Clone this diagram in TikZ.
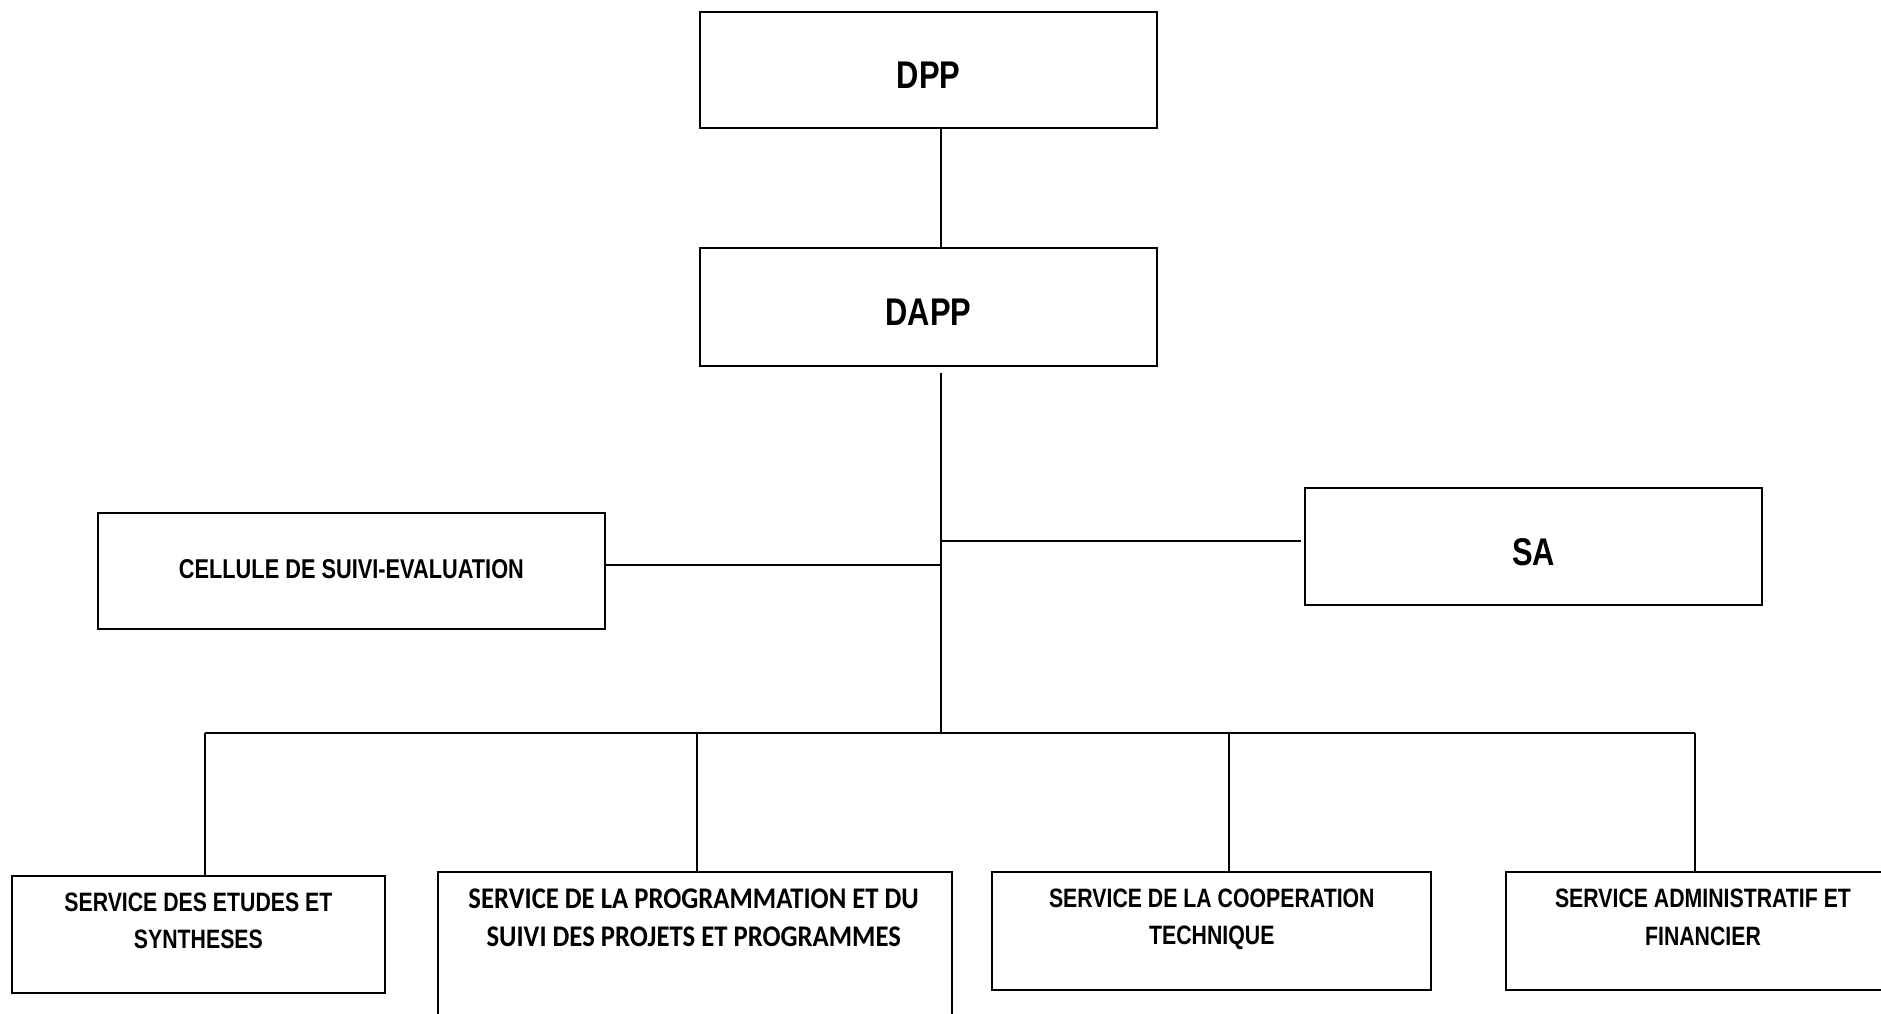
\documentclass[tikz,border=0pt]{standalone}
\usepackage{fontspec}
\setmainfont{Liberation Sans}
\newfontfamily\narrowfont{Liberation Sans Bold}[FakeStretch=0.8]
\newfontfamily\calfont{Carlito Bold}[FakeStretch=0.89]
\usetikzlibrary{positioning}

\tikzset{
  unit/.style={draw, line width=1pt, inner sep=0pt, text depth=0pt, text height=18pt,
    font=\narrowfont\fontsize{19.3}{21}\selectfont},
  svcbox/.style={draw, line width=1pt, inner sep=0pt},
  svctxt/.style={align=center, inner sep=0pt,
    font=\narrowfont\fontsize{13.3}{18.8}\selectfont},
  link/.style={line width=1pt}
}

\begin{document}
\begin{tikzpicture}[x=0.5pt,y=-0.5pt]
\useasboundingbox (0,0) rectangle (1881,1013);

% direction
\node[unit, minimum width=228.5pt, minimum height=58.2pt] (dpp) at (928.5,70.2) {DPP};
\node[unit, minimum width=228.5pt, minimum height=58.7pt] (dapp) at (928.5,307) {DAPP};

% units attached to the DAPP
\node[unit, minimum width=253.3pt, minimum height=58.2pt, text height=7.3pt,
  font=\narrowfont\fontsize{13.6}{15}\selectfont] (cse) at (351.4,570.9) {CELLULE DE SUIVI-EVALUATION};
\node[unit, minimum width=228.5pt, minimum height=58.5pt, text height=19pt] (sa) at (1533.8,546.8) {SA};

% services
\node[svcbox, minimum width=186.7pt, minimum height=58.5pt] (ses) at (198.4,934.2) {};
\node[svcbox, minimum width=257.2pt, minimum height=83.8pt] (spp) at (694.9,956.2) {};
\node[svcbox, minimum width=219.5pt, minimum height=58.7pt] (sct) at (1211.8,931) {};
\node[svcbox, minimum width=197pt, minimum height=58.8pt] (saf) at (1703,931.2) {};

\node[svctxt, below=8.7pt of ses.north] (ses-t) {SERVICE DES ETUDES ET\\SYNTHESES};
\node[svctxt, below=8.5pt of spp.north, xshift=-0.6pt,
  font=\calfont\fontsize{15}{18.8}\selectfont] (spp-t) {SERVICE DE LA PROGRAMMATION ET DU\\SUIVI DES PROJETS ET PROGRAMMES};
\node[svctxt, below=8.5pt of sct.north] (sct-t) {SERVICE DE LA COOPERATION\\TECHNIQUE};
\node[svctxt, below=8.7pt of saf.north] (saf-t) {SERVICE ADMINISTRATIF ET\\FINANCIER};

% connectors
\coordinate (trunk) at (940.7,373);
\coordinate (hub) at (940.7,733.3);
\coordinate (b1) at (205,733.3);
\coordinate (b2) at (697.3,733.3);
\coordinate (b3) at (1228.7,733.3);
\coordinate (b4) at (1695,733.3);

\draw[link] (dpp.south -| trunk) -- ([yshift=-1pt]dapp.north -| trunk);
\draw[link] (trunk) -- (hub);
\draw[link] ([yshift=2.8pt]cse.east) -- ([yshift=2.8pt]cse.east -| trunk);
\draw[link] ([xshift=-1.8pt,yshift=2.75pt]sa.west) -- ([yshift=2.75pt]sa.west -| trunk);
\draw[link] (b1) -- (b4);
\draw[link] (b1) -- ([yshift=-1pt]b1 |- ses.north);
\draw[link] (b2) -- ([yshift=-1pt]b2 |- spp.north);
\draw[link] (b3) -- ([yshift=-1pt]b3 |- sct.north);
\draw[link] (b4) -- ([yshift=-1pt]b4 |- saf.north);
\end{tikzpicture}
\end{document}
